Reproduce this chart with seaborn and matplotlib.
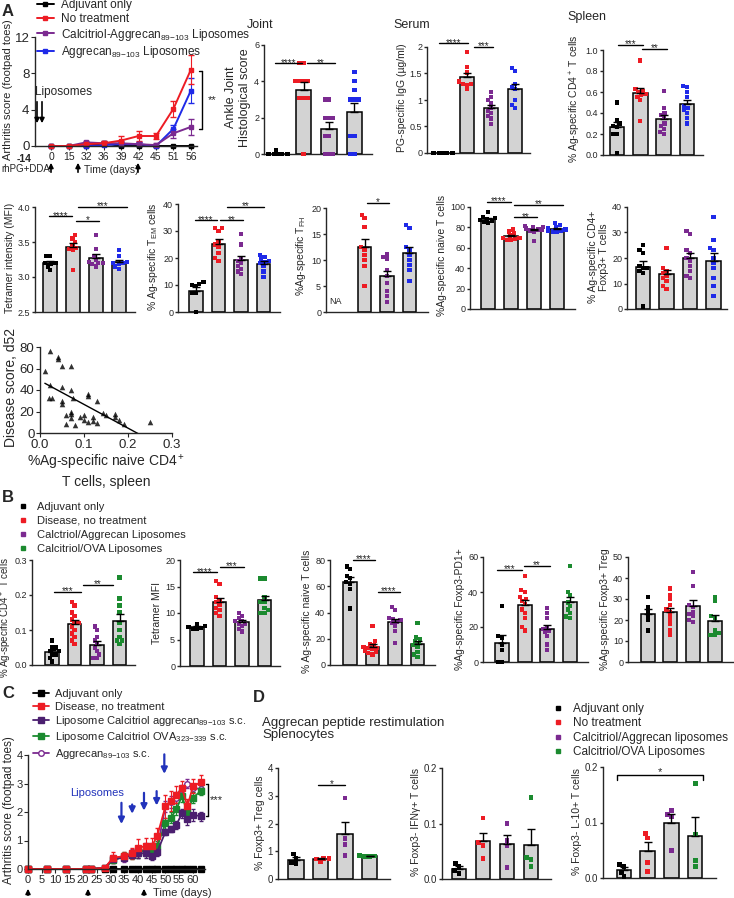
import warnings
import numpy as np
import pandas as pd
import matplotlib
matplotlib.use('Agg')
import matplotlib.pyplot as plt
from matplotlib.lines import Line2D
import seaborn as sns

warnings.filterwarnings('ignore')
sns.set_style('ticks')
plt.rcParams['font.family'] = ['Liberation Sans', 'DejaVu Sans']
plt.rcParams['mathtext.default'] = 'regular'
plt.rcParams['axes.linewidth'] = 1.0

W, H = 734, 898
BLACK, RED, PURPLE, BLUE, GREEN = '#000000', '#ed1c24', '#7b2a90', '#1f2ae8', '#1b8a2f'
DPURPLE = '#4b1f6f'

# ---- panel A, arthritis time course
days_a = [0, 15, 32, 36, 39, 42, 45, 51, 56]
adj_a = [0, 0, 0, 0.3, 0, 0, 0, 0, 0]
notx_a = [0, 0, 0.2, 0.3, 0.6, 1.1, 1.1, 4.1, 8.4]
notx_a_err = [0, 0, 0.2, 0.2, 0.5, 0.6, 0.3, 0.9, 1.6]
calc_a = [0, 0, 0.4, 0.3, 0.3, 0.2, 0.1, 1.4, 2.1]
calc_a_err = [0, 0, 0.2, 0.2, 0.2, 0.2, 0.2, 0.5, 0.9]
lipo_a = [0, 0, 0, 0.1, 0.2, 0.2, 0, 1.9, 6.1]
lipo_a_err = [0, 0, 0, 0.1, 0.2, 0.2, 0, 0.4, 1.4]

# ---- panel A bar charts (adjuvant, no treatment, calcitriol lipo, aggrecan lipo)
joint = [[0, 0, 0, 0, 0, 0, 0, 0.2],
         [5, 5, 4, 4, 4, 4, 3.1, 3.1, 3.1, 0],
         [3, 3, 2, 2, 2, 1, 1, 0, 0, 0],
         [4.5, 4, 3.5, 3, 3, 3, 1, 1, 0, 0]]
serum = [[0, 0, 0, 0, 0, 0, 0],
         [1.9, 1.62, 1.52, 1.35, 1.3, 1.3, 1.28, 1.2],
         [1.15, 1.05, 1.0, 0.95, 0.85, 0.8, 0.75, 0.65, 0.55, 0.7],
         [1.6, 1.55, 1.3, 1.25, 1.2, 1.0, 0.9, 0.85]]
spleen = [[0.5, 0.33, 0.3, 0.28, 0.27, 0.2, 0.2, 0.02],
          [0.9, 0.63, 0.61, 0.6, 0.58, 0.57, 0.55, 0.52, 0.32],
          [0.61, 0.45, 0.4, 0.38, 0.35, 0.3, 0.28, 0.25, 0.22, 0.2],
          [0.66, 0.65, 0.6, 0.55, 0.47, 0.45, 0.43, 0.4, 0.35, 0.3]]
tetramer = [[3.3, 3.3, 3.2, 3.2, 3.18, 3.15, 3.1],
            [3.6, 3.55, 3.5, 3.45, 3.42, 3.4, 3.38, 3.1],
            [3.6, 3.4, 3.3, 3.25, 3.22, 3.2, 3.2, 3.18, 3.15],
            [3.38, 3.3, 3.22, 3.2, 3.2, 3.18, 3.15, 3.12]]
tem = [[11, 10.5, 10, 9.5, 7, 7, 0],
       [31, 31, 30, 26, 25, 24, 22, 20, 19],
       [29, 25, 20, 19, 18, 17, 16, 15, 14],
       [21, 20.5, 19.5, 19, 18.5, 18, 17, 15, 13]]
tfh = [[],
       [18.7, 18, 16.3, 12.5, 12, 11, 10, 8.8, 5],
       [11.2, 10.5, 10.3, 8, 7, 5.5, 4, 3, 2],
       [16.7, 16.2, 12.5, 12, 11, 10, 9, 8, 6]]
naive = [[95, 90, 89, 88, 87, 86, 85, 84],
         [78, 76, 74, 72, 70, 70, 69, 68, 68],
         [81, 80, 80, 79, 78, 78, 77, 76, 67],
         [84, 82, 80, 79, 78, 77, 77, 76, 76]]
foxp3 = [[25, 23, 22, 17, 16, 16, 15, 14, 1],
         [24, 16, 15, 14, 13, 12, 11, 9, 8],
         [30.5, 29.5, 23, 22, 20, 19, 17, 15, 13, 12],
         [36, 27, 24, 23, 20, 18, 16, 12, 9, 5]]

# ---- correlation
sc_x = [0.011, 0.023, 0.023, 0.02, 0.028, 0.041, 0.041, 0.05, 0.07, 0.05, 0.07, 0.05,
        0.05, 0.075, 0.06, 0.07, 0.07, 0.07, 0.1, 0.11, 0.11, 0.12, 0.13, 0.143, 0.15,
        0.17, 0.17, 0.18, 0.08, 0.1, 0.11, 0.12, 0.13, 0.19, 0.25, 0.06, 0.09]
sc_y = [58, 76, 45, 33, 33, 71, 69, 62, 62, 43, 40, 30, 27, 33, 17, 20, 18, 14, 17, 36,
        34, 15, 30, 19, 17, 18, 15, 12, 7, 12, 10, 11, 9, 8, 10, 8, 15]

# ---- panel B (adjuvant, disease, calcitriol/aggrecan, calcitriol/OVA)
b_cd4 = [[0.07, 0.05, 0.05, 0.04, 0.04, 0.03, 0.03, 0.02, 0.01],
         [0.18, 0.17, 0.15, 0.14, 0.13, 0.12, 0.12, 0.11, 0.1, 0.09, 0.08, 0.07, 0.06],
         [0.11, 0.1, 0.08, 0.07, 0.06, 0.05, 0.04, 0.03, 0.02, 0.02],
         [0.25, 0.19, 0.17, 0.15, 0.12, 0.1, 0.08, 0.07, 0.07, 0.06]]
b_mfi = [[8, 7.5, 7.3, 7.2, 7, 7],
         [16, 15.5, 13, 12.5, 12, 11.5, 11, 10.5, 10, 9.5],
         [10, 9.5, 9, 8.5, 8.5, 8, 8, 7.5, 7, 6.5],
         [16.5, 16.5, 13, 12, 12, 11, 10.5, 10, 10]]
b_naive = [[75, 73, 68, 66, 63, 62, 58, 43],
           [30, 18, 16, 15, 14, 13, 13, 12, 11, 10, 9, 8],
           [44, 42, 36, 35, 34, 33, 32, 30, 26, 17],
           [32, 21, 20, 18, 17, 15, 14, 10, 8, 6]]
b_pd1 = [[32, 15, 14, 10, 7, 0, 0],
         [49, 41, 40, 37, 36, 35, 33, 30, 28, 25, 20, 18],
         [31, 28, 25, 20, 19, 18, 17, 15, 10, 7],
         [55, 40, 38, 34, 32, 30, 28, 26, 25]]
b_treg = [[31, 26, 24, 22, 20, 15],
          [35, 32, 30, 27, 25, 24, 22, 20, 18, 15, 13],
          [43, 36, 27, 26, 24, 23, 22, 20, 19],
          [31, 29, 22, 21, 15, 14, 13, 13]]

# ---- panel C
days_c = [0, 7, 14, 21, 23, 28, 31, 35, 38, 40, 43, 45, 47, 50, 52, 54, 56, 58, 60, 63]
adj_c = [0] * 20
dis_c = [0, 0, 0, 0, 0, 0.05, 0.4, 0.45, 0.55, 0.75, 0.8, 0.8, 1.15, 2.2, 2.4, 2.6, 2.85, 2.2, 2.9, 3.05]
dis_c_err = [0, 0, 0, 0, 0, 0, 0.2, 0.15, 0.2, 0.3, 0.3, 0.3, 0.3, 0.4, 0.35, 0.3, 0.25, 0.25, 0.25, 0.25]
lagg_c = [0, 0, 0, 0, 0, 0.05, 0.35, 0.4, 0.5, 0.55, 0.55, 0.45, 0.6, 1.3, 1.4, 1.55, 1.95, 1.75, 1.9, 1.85]
lagg_c_err = [0, 0, 0, 0, 0, 0, 0.1, 0.1, 0.1, 0.15, 0.15, 0.15, 0.15, 0.1, 0.1, 0.15, 0.15, 0.2, 0.2, 0.15]
lova_c = [0, 0, 0, 0, 0, 0.05, 0.3, 0.45, 0.5, 0.6, 0.65, 0.65, 0.8, 1.6, 1.8, 2.1, 2.55, 2.0, 2.5, 2.75]
lova_c_err = [0, 0, 0, 0, 0, 0, 0.1, 0.15, 0.15, 0.2, 0.2, 0.2, 0.2, 0.2, 0.2, 0.2, 0.2, 0.2, 0.2, 0.15]
agg_c = [0, 0, 0, 0, 0, 0.05, 0.35, 0.4, 0.55, 0.6, 0.7, 0.7, 0.7, 2.2, 2.35, 2.5, 2.8, 3.0, 2.85, 2.8]
agg_c_err = [0, 0, 0, 0, 0, 0, 0.15, 0.15, 0.15, 0.2, 0.2, 0.2, 0.2, 0.2, 0.2, 0.2, 0.15, 0.15, 0.15, 0.15]
lipo_days = [34, 37.9, 42.2, 46.8, 49.6]
lipo_tail = [2.42, 2.36, 2.77, 2.83, 4.12]
lipo_tip = [1.48, 1.84, 1.95, 2.13, 3.24]

# ---- panel D
d_treg = [[0.9, 0.75, 0.6, 0.55], [0.75, 0.75, 0.72, 0.62],
          [2.92, 1.45, 1.25, 0.85], [0.85, 0.83, 0.8, 0.8]]
d_ifng = [[0.028, 0.022, 0.015, 0.01], [0.11, 0.065, 0.06, 0.037],
          [0.1, 0.07, 0.06, 0.02], [0.147, 0.038, 0.035, 0.023]]
d_il10 = [[0.025, 0.02, 0.01, 0.002], [0.08, 0.072, 0.028, 0.012],
          [0.122, 0.115, 0.11, 0.05], [0.17, 0.078, 0.032, 0.02]]

fig = plt.figure(figsize=(W / 100, H / 100), dpi=100)


def place(left, right, ticks, ylim):
    (v0, p0), (v1, p1) = ticks
    k = (p0 - p1) / (v1 - v0)
    yb = p0 + (v0 - ylim[0]) * k
    yt = p0 - (ylim[1] - v0) * k
    ax = fig.add_axes([left / W, 1 - yb / H, (right - left) / W, (yb - yt) / H])
    ax.set_ylim(*ylim)
    return ax


def sig(ax, x0, x1, y, text, fs=7):
    ax.plot([x0, x1], [y, y], color='black', lw=1, clip_on=False, zorder=6)
    ax.annotate(text, xy=((x0 + x1) / 2, y), xytext=(0, -1.8), textcoords='offset points',
                ha='center', va='baseline', fontsize=fs)


def bar_panel(left, right, ticks, ylim, yticks, groups, c0, step, ylabel, colors,
              sigs=(), yticklabels=None, fs=6.5, lfs=7.5, ms=3):
    ax = place(left, right, ticks, ylim)
    names = ['g0', 'g1', 'g2', 'g3']
    df = pd.DataFrame({'g': [n for n, vals in zip(names, groups) for _ in vals],
                       'v': [v for vals in groups for v in vals]})
    sns.barplot(data=df, x='g', y='v', order=names, errorbar=None, color='#d3d3d3',
                edgecolor='black', linewidth=1.1, width=0.62, ax=ax, zorder=2)
    sns.swarmplot(data=df, x='g', y='v', order=names, hue='g', hue_order=names,
                  palette=dict(zip(names, colors)), marker='s', size=ms, linewidth=0,
                  legend=False, ax=ax, zorder=4, clip_on=False)
    idx = [i for i, g in enumerate(groups) if len(g) > 1]
    means = [np.mean(groups[i]) for i in idx]
    sems = [np.std(groups[i], ddof=1) / np.sqrt(len(groups[i])) for i in idx]
    ax.errorbar(idx, means, yerr=[np.zeros(len(idx)), sems], fmt='none', ecolor='black',
                elinewidth=1, capsize=3, capthick=1, zorder=5)
    for s in sigs:
        sig(ax, *s)
    sns.despine(ax=ax)
    ax.set_yticks(yticks)
    if yticklabels is not None:
        ax.set_yticklabels(yticklabels)
    ax.spines['left'].set_bounds(yticks[0], yticks[-1])
    ax.set_xticks([])
    ax.set_xlabel('')
    ax.set_ylabel(ylabel, fontsize=lfs, labelpad=2)
    ax.tick_params(axis='y', labelsize=fs, length=2.5, width=1, pad=1)
    ax.set_xlim((left - c0) / step, (right - c0) / step)
    ax.set_ylim(*ylim)
    return ax


COLS_A = [BLACK, RED, PURPLE, BLUE]
COLS_B = [BLACK, RED, PURPLE, GREEN]

# ---------------- A: time course
axl = place(35, 197, ((0, 146), (12, 37)), (0, 12.4))
pos = np.arange(len(days_a))
for vals, errs, col in [(adj_a, [0] * 9, BLACK), (lipo_a, lipo_a_err, BLUE),
                        (calc_a, calc_a_err, PURPLE), (notx_a, notx_a_err, RED)]:
    axl.errorbar(pos, vals, yerr=errs, color=col, marker='s', ms=3.5, lw=1.4,
                 capsize=2, elinewidth=0.8, clip_on=False)
sns.despine(ax=axl)
axl.set_xlim(-0.93, 8.35)
axl.set_xticks(pos)
axl.set_xticklabels([str(d) for d in days_a], fontsize=7.5)
axl.set_yticks([0, 4, 8, 12])
axl.spines['left'].set_bounds(0, 12)
axl.tick_params(axis='y', labelsize=9.5, length=3, pad=1)
axl.tick_params(axis='x', length=3, pad=1)
axl.set_ylabel('Arthritis score (footpad toes)', fontsize=8, labelpad=1)
axl.text(-1.57, -0.85, '-14', ha='center', va='top', fontsize=7.5, fontweight='bold')
axl.plot([8.65, 8.65], [8.3, 1.9], color='black', lw=1, clip_on=False)
axl.plot([8.45, 8.65], [8.3, 8.3], color='black', lw=1, clip_on=False)
axl.plot([8.45, 8.65], [1.9, 1.9], color='black', lw=1, clip_on=False)
axl.text(8.95, 5.1, '**', fontsize=8, va='center', ha='left')

# Joint / Serum / Spleen
bar_panel(264, 372, ((0, 154), (6, 45)), (0, 6.2), [0, 2, 4, 6], joint, 278, 25.5,
          'Ankle Joint\nHistological score', COLS_A, lfs=9,
          sigs=[(-0.12, 0.94, 5.0, '****'), (1.14, 2.24, 5.0, '**')])
bar_panel(427, 530, ((0, 153), (2, 47)), (0, 2.1), [0, 0.5, 1, 1.5, 2], serum, 443, 24,
          'PG-specific IgG (µg/ml)', COLS_A, yticklabels=['0', '0.5', '1', '1.5', '2'],
          sigs=[(-0.17, 1.04, 2.07, '****'), (1.3, 2.1, 2.0, '***')])
bar_panel(603, 703, ((0, 155), (1, 50)), (0, 1.08), [0, 0.2, 0.4, 0.6, 0.8, 1.0], spleen,
          617, 23.3, '% Ag-specific CD4$^+$ T cells', COLS_A,
          sigs=[(0.04, 1.1, 1.05, '***'), (1.07, 2.15, 1.01, '**')])

# second row
bar_panel(35, 135, ((2.5, 312), (4.0, 207)), (2.5, 4.05), [2.5, 3.0, 3.5, 4.0], tetramer,
          50, 23, 'Tetramer intensity (MFI)', COLS_A,
          sigs=[(-0.04, 0.96, 3.87, '****'), (1.13, 2.13, 3.8, '*'), (1.2, 3.35, 4.0, '***')])
bar_panel(178, 280, ((0, 312), (40, 204)), (0, 41), [0, 10, 20, 30, 40], tem, 196, 22.5,
          '% Ag-specific T$_{EM}$ cells', COLS_A,
          sigs=[(-0.04, 0.93, 34, '****'), (1.07, 2.1, 34, '**'), (1.38, 3.0, 39, '**')])
axf = bar_panel(326, 428, ((0, 312), (20, 208)), (0, 21.5), [0, 5, 10, 15, 20], tfh, 342,
                22.5, '%Ag-specific T$_{FH}$', COLS_A,
                sigs=[(1.1, 2.1, 21, '*')])
axf.text(-0.3, 2.0, 'NA', fontsize=6.5, ha='center', va='center')
bar_panel(470, 575, ((0, 309), (100, 207)), (0, 106), [0, 20, 40, 60, 80, 100], naive, 488,
          23, '%Ag-specific naive T cells', COLS_A,
          sigs=[(-0.04, 1.0, 105, '****'), (1.13, 2.13, 90, '**'), (1.13, 3.26, 102, '**')])
bar_panel(627, 727, ((0, 309), (40, 207)), (0, 41), [0, 10, 20, 30, 40], foxp3, 643, 23.5,
          '% Ag-specific CD4+\nFoxp3+ T cells', COLS_A)

# correlation
axs = place(40, 172, ((0, 433), (80, 347)), (0, 84))
sns.regplot(x=sc_x, y=sc_y, ci=None, marker='^', color='black',
            scatter_kws={'s': 16, 'linewidths': 0}, line_kws={'lw': 1}, ax=axs)
sns.despine(ax=axs)
axs.set_xlim(0, 0.3)
axs.set_ylim(0, 84)
axs.set_xticks([0, 0.1, 0.2, 0.3])
axs.set_xticklabels(['0.0', '0.1', '0.2', '0.3'])
axs.set_yticks([0, 20, 40, 60, 80])
axs.spines['left'].set_bounds(0, 80)
axs.tick_params(labelsize=9.5, length=3, pad=1)
axs.set_xlabel('%Ag-specific naive CD4$^+$\nT cells, spleen', fontsize=10, labelpad=2)
axs.set_ylabel('Disease score, d52', fontsize=10, labelpad=1)

# ---------------- B
ax_b1 = bar_panel(32, 135, ((0, 665), (0.3, 560)), (0, 0.3), [0, 0.1, 0.2, 0.3], b_cd4, 52,
                  22.5, '% Ag-specific CD4$^+$ T cells', COLS_B, lfs=7, fs=6.5,
                  sigs=[(0.1, 1.3, 0.21, '***'), (1.38, 2.7, 0.23, '**')])
ax_b1.yaxis.set_label_coords(-0.175, 0.45)
bar_panel(180, 280, ((0, 666), (20, 560)), (0, 20), [0, 5, 10, 15, 20], b_mfi, 197, 22.5,
          'Tetramer MFI', COLS_B,
          sigs=[(-0.2, 0.9, 17.7, '****'), (1.0, 2.1, 18.7, '***')])
bar_panel(330, 435, ((0, 665), (80, 560)), (0, 82), [0, 20, 40, 60, 80], b_naive, 350, 22.5,
          '% Ag-specific naive T cells', COLS_B,
          sigs=[(0.13, 1.1, 80, '****'), (1.24, 2.2, 56, '****')])
bar_panel(483, 588, ((0, 662), (60, 557)), (0, 60), [0, 20, 40, 60], b_pd1, 502, 22.7,
          '%Ag-specific Foxp3-PD1+', COLS_B,
          sigs=[(-0.22, 0.9, 52.6, '***'), (0.97, 2.1, 55, '**')])
bar_panel(628, 734, ((0, 662), (50, 557)), (0, 50), [0, 10, 20, 30, 40, 50], b_treg, 648,
          22.3, '%Ag-specific Foxp3+ Treg', COLS_B)

# ---------------- C
axc = place(28, 205, ((0, 869), (4, 755)), (0, 4.15))
for vals, errs, col, mk, mfc in [(agg_c, agg_c_err, PURPLE, 'o', 'white'),
                                 (lova_c, lova_c_err, GREEN, 's', GREEN),
                                 (lagg_c, lagg_c_err, DPURPLE, 's', DPURPLE),
                                 (adj_c, adj_c, BLACK, 's', BLACK),
                                 (dis_c, dis_c_err, RED, 's', RED)]:
    axc.errorbar(days_c, vals, yerr=errs, color=col, marker=mk, mfc=mfc, mec=col, ms=4,
                 mew=1, lw=1.3, capsize=1.5, elinewidth=0.8, clip_on=False)
for d, t0, t1 in zip(lipo_days, lipo_tail, lipo_tip):
    axc.annotate('', xy=(d, t1), xytext=(d, t0),
                 arrowprops=dict(arrowstyle='-|>', color='#2233bb', lw=1.6, mutation_scale=9))
axc.text(15.3, 2.67, 'Liposomes', color='#2233bb', fontsize=8, va='center')
axc.plot([65.5, 65.5], [3.0, 1.85], color='black', lw=1, clip_on=False)
axc.plot([64.6, 65.5], [3.0, 3.0], color='black', lw=1, clip_on=False)
axc.plot([64.6, 65.5], [1.85, 1.85], color='black', lw=1, clip_on=False)
axc.text(66.3, 2.42, '***', fontsize=8, va='center')
sns.despine(ax=axc)
axc.set_xlim(0, 64.4)
axc.set_ylim(0, 4.15)
axc.set_xticks(range(0, 61, 5))
axc.set_yticks([0, 1, 2, 3, 4])
axc.spines['left'].set_bounds(0, 4)
axc.tick_params(labelsize=8, length=3, pad=1)
axc.set_ylabel('Arthritis score (footpad toes)', fontsize=8.5, labelpad=1)

# ---------------- D
bar_panel(278, 390, ((0, 879), (4, 768)), (0, 4.05), [0, 1, 2, 3, 4], d_treg, 296, 24.5,
          '% Foxp3+ Treg cells', COLS_B, fs=7, ms=3.5,
          sigs=[(0.9, 2.0, 3.4, '*')])
bar_panel(442, 551, ((0, 879), (0.2, 768)), (0, 0.205), [0, 0.1, 0.2], d_ifng, 459, 24,
          '% Foxp3- IFNγ+ T cells', COLS_B, fs=7, ms=3.5)
ax_d3 = bar_panel(603, 716, ((0, 878), (0.2, 767)), (0, 0.205), [0, 0.1, 0.2], d_il10, 624,
                  23.7, '% Foxp3- L-10+ T cells', COLS_B, fs=7, ms=3.5)
ax_d3.plot([-0.3, -0.3, 3.35, 3.35], [0.176, 0.185, 0.185, 0.176], color='black', lw=1)
ax_d3.annotate('*', xy=(1.5, 0.185), xytext=(0, 0.5), textcoords='offset points',
               ha='center', va='baseline', fontsize=8)

# ---------------- legends
hA = [Line2D([], [], color=c, marker='s', ms=3.5, lw=1.4) for c in COLS_A]
fig.legend(hA, ['Adjuvant only', 'No treatment',
                'Calcitriol-Aggrecan$_{89{-}103}$ Liposomes', 'Aggrecan$_{89{-}103}$ Liposomes'],
           loc='upper left', bbox_to_anchor=(37 / W, 1 - (-1) / H), frameon=False,
           fontsize=8.5, handlelength=1.4, handletextpad=0.6, labelspacing=0.15,
           borderaxespad=0, borderpad=0)
hB = [Line2D([], [], ls='none', color=c, marker='s', ms=3) for c in COLS_B]
fig.legend(hB, ['Adjuvant only', 'Disease, no treatment', 'Calctriol/Aggrecan Liposomes',
                'Calcitriol/OVA Liposomes'],
           loc='upper left', bbox_to_anchor=(17 / W, 1 - 502 / H), frameon=False,
           fontsize=8, handlelength=1.0, handletextpad=0.8, labelspacing=0.35,
           borderaxespad=0, borderpad=0)
hC = [Line2D([], [], color=c, marker='s', ms=4, lw=1.3) for c in [BLACK, RED, DPURPLE, GREEN]]
hC.append(Line2D([], [], color=PURPLE, marker='o', mfc='white', ms=4, lw=1.3))
fig.legend(hC, ['Adjuvant only', 'Disease, no treatment',
                'Liposome Calcitriol aggrecan$_{89{-}103}$ s.c.',
                'Liposome Calcitriol OVA$_{323{-}339}$ s.c.', 'Aggrecan$_{89{-}103}$ s.c.'],
           loc='upper left', bbox_to_anchor=(33 / W, 1 - 689 / H), frameon=False,
           fontsize=8, handlelength=1.4, handletextpad=0.6, labelspacing=0.22,
           borderaxespad=0, borderpad=0)
fig.legend(hB, ['Adjuvant only', 'No treatment', 'Calcitriol/Aggrecan liposomes',
                'Calcitriol/OVA Liposomes'],
           loc='upper left', bbox_to_anchor=(552 / W, 1 - 703 / H), frameon=False,
           fontsize=8.5, handlelength=1.0, handletextpad=0.8, labelspacing=0.2,
           borderaxespad=0, borderpad=0)

# ---------------- free text and arrows (pixel overlay)
ov = fig.add_axes([0, 0, 1, 1])
ov.set_xlim(0, W)
ov.set_ylim(H, 0)
ov.axis('off')
for lab, x, y in [('A', 2, 12), ('B', 2, 497), ('C', 2, 693), ('D', 253, 697)]:
    ov.text(x, y, lab, fontsize=12, fontweight='bold', va='center')
ov.text(260, 25, 'Joint', fontsize=9, ha='center', va='center')
ov.text(412, 25, 'Serum', fontsize=9, ha='center', va='center')
ov.text(587, 17, 'Spleen', fontsize=9, ha='center', va='center')
ov.text(35, 92, 'Liposomes', fontsize=8.5, va='center')
for x in [37, 42]:
    ov.annotate('', xy=(x, 126), xytext=(x, 99),
                arrowprops=dict(arrowstyle='-|>', color='black', lw=1.2, mutation_scale=7))
ov.text(1, 169, 'rhPG+DDA', fontsize=7, va='center')
ov.text(84, 170, 'Time (days)', fontsize=7.5, va='center')
for x in [51, 78, 138]:
    ov.annotate('', xy=(x, 160), xytext=(x, 175),
                arrowprops=dict(arrowstyle='-|>', color='black', lw=1.2, mutation_scale=7))
ov.text(153, 893, 'Time (days)', fontsize=8, va='center')
for x in [28, 88, 144]:
    ov.annotate('', xy=(x, 886), xytext=(x, 898),
                arrowprops=dict(arrowstyle='-|>', color='black', lw=1.2, mutation_scale=7))
ov.text(262, 729, 'Aggrecan peptide restimulation\nSplenocytes', fontsize=9.5,
        va='center', linespacing=1.1)

fig.savefig('out.png', dpi=100)
